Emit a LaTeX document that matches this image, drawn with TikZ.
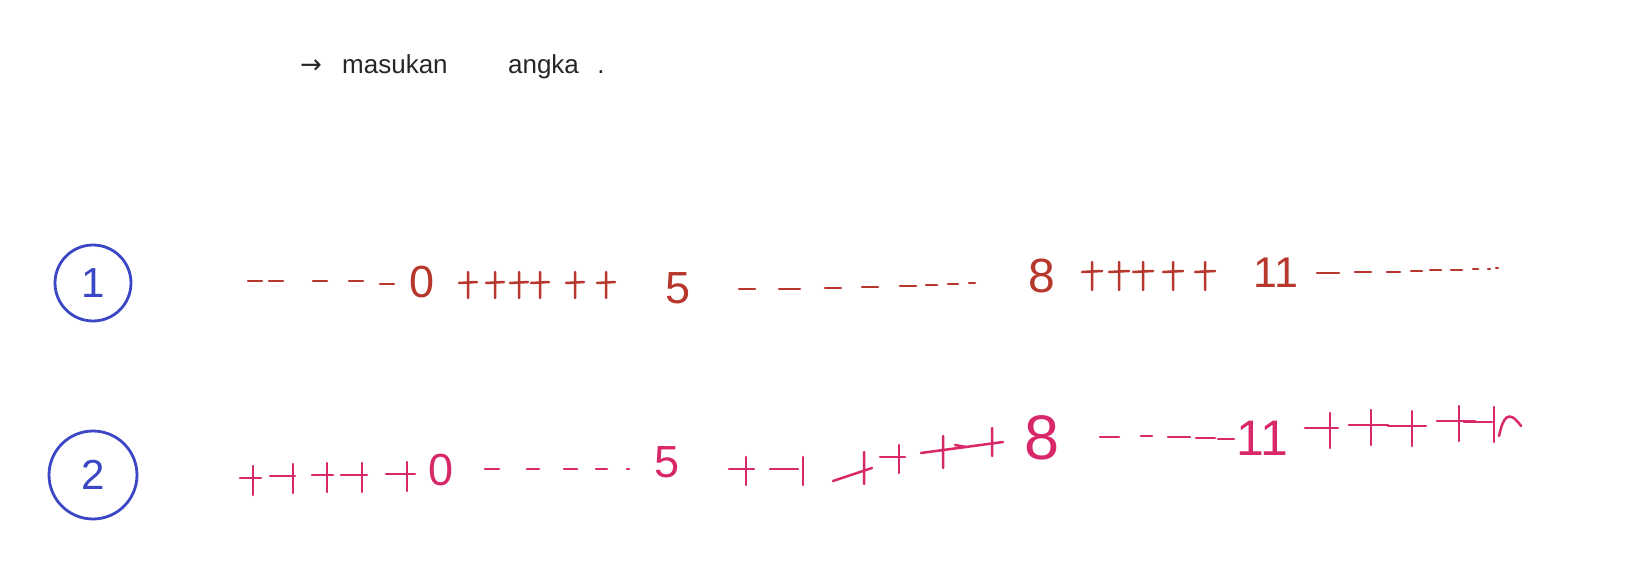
\documentclass[tikz,border=0pt]{standalone}
\usepackage{fontspec}
\setmainfont{Liberation Sans}
\newfontfamily\arrowfont{DejaVu Sans}
\usetikzlibrary{positioning}

\begin{document}
\begin{tikzpicture}[
  x=1pt, y=-1pt,
  ink/.style={text=black!85, font=\fontsize{26}{26}\selectfont, inner sep=0pt},
  badge/.style={circle, draw=cBlue, line width=2.8pt, text=cBlue, inner sep=0pt},
  numA/.style={text=cRowA, font=\fontsize{45}{45}\selectfont, inner sep=0pt},
  numB/.style={text=cRowB, font=\fontsize{45}{45}\selectfont, inner sep=0pt},
  markA/.style={draw=cRowA, line width=2.5pt, line cap=round},
  markB/.style={draw=cRowB, line width=2.5pt, line cap=round},
]
\definecolor{cBlue}{HTML}{3B47C4}
\definecolor{cRowA}{HTML}{B8372C}
\definecolor{cRowB}{HTML}{D8286A}

\fill[white] (0,0) rectangle (1627,588);
\useasboundingbox (0,0) rectangle (1627,588);

\node[ink, anchor=base west] (w1) at (342,74) {masukan};
\node[ink, base left=20pt of w1] (ar) {\arrowfont →};
\node[ink, base right=60pt of w1] (w2) {angka};
\node[ink, base right=18pt of w2] (dt) {.};

\node[badge, minimum size=76pt, font=\fontsize{42}{42}\selectfont] (c1) at (93,283) {1};
\node[badge, minimum size=88pt, font=\fontsize{42}{42}\selectfont] (c2) at (93,475) {2};

\node[numA] (r1n0) at (422,282) {0};
\node[numA] (r1n5) at (678,288) {5};
\node[numA, font=\fontsize{48}{48}\selectfont] (r1n8) at (1042,276) {8};
\node[numA, font=\fontsize{43}{43}\selectfont] (r1n11) at (1276,273) {11};

\foreach \a/\b/\y in {248/262/281, 269/283/281, 313/327/281, 349/363/281, 380/394/284}
  \draw[markA] (\a,\y) -- (\b,\y);
\foreach \x in {468,495,519,540,575,606}
  \draw[markA] ({\x-9},283) -- ({\x+9},282) (\x,272) -- (\x,298);
\foreach \a/\b/\y in {739/755/289, 779/800/289, 825/841/288, 862/878/287, 900/916/286, 926/937/285, 948/958/284, 969/975/283}
  \draw[markA] (\a,\y) -- (\b,\y);
\foreach \x in {1092,1119,1143,1173,1205}
  \draw[markA] ({\x-10},272) -- ({\x+10},271) (\x,262) -- (\x,290);
\foreach \a/\b/\y in {1317/1339/273, 1355/1371/272, 1387/1400/272, 1411/1422/271, 1430/1441/270, 1451/1462/270, 1473/1478/269, 1488/1490/269, 1496/1498/268}
  \draw[markA] (\a,\y) -- (\b,\y);

\node[numB] (r2n0) at (441,470) {0};
\node[numB] (r2n5) at (667,462) {5};
\node[numB, font=\fontsize{63}{63}\selectfont] (r2n8) at (1042,438) {8};
\node[numB, font=\fontsize{50}{50}\selectfont] (r2n11) at (1262,438) {11};

\foreach \a/\b/\v/\y in {240/261/253/478, 270/295/293/476, 312/333/327/475, 341/367/362/475, 386/415/407/474}
  \draw[markB] (\a,\y) -- (\b,\y) (\v,{\y-12}) -- (\v,{\y+17});
\foreach \a/\b in {485/499, 527/539, 564/577, 596/607, 627/629}
  \draw[markB] (\a,469) -- (\b,469);
\foreach \a/\b/\v/\y in {729/754/746/469, 770/798/803/469, 880/905/899/457}
  \draw[markB] (\a,\y) -- (\b,\y) (\v,{\y-12}) -- (\v,{\y+16});
\draw[markB] (833,481) -- (872,468) (864,452) -- (864,484);
\draw[markB] (921,453) -- (1003,442) (943,436) -- (943,468) (992,428) -- (992,456);
\draw[markB] (955,445) -- (966,447);
\foreach \a/\b/\y in {1100/1119/437, 1141/1152/436, 1168/1190/437, 1196/1215/438, 1218/1234/439}
  \draw[markB] (\a,\y) -- (\b,\y);
\foreach \a/\b/\v/\y in {1305/1338/1330/428, 1349/1388/1371/425, 1388/1426/1412/426, 1437/1475/1459/421, 1464/1492/1494/422}
  \draw[markB] (\a,\y) -- (\b,\y) (\v,{\y-15}) -- (\v,{\y+20});
\draw[markB] (1499,436) .. controls (1503,418) and (1508,408) .. (1521,426);
\end{tikzpicture}
\end{document}
